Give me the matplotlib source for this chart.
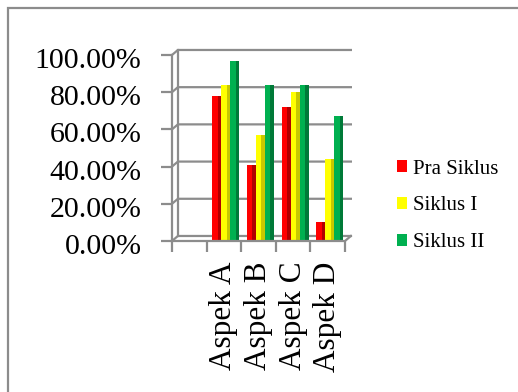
import matplotlib.pyplot as plt
import matplotlib.transforms as mtransforms
from matplotlib.patches import Rectangle
import numpy as np

plt.rcParams['font.family'] = ['Liberation Serif', 'DejaVu Serif']

categories = ['', 'Aspek A', 'Aspek B', 'Aspek C', 'Aspek D']
series_names = ['Pra Siklus', 'Siklus I', 'Siklus II']
pra_siklus = [None, 78, 41, 72, 10]
siklus_1 = [None, 84, 57, 80, 44]
siklus_2 = [None, 97, 84, 84, 67]
y_ticks = [0, 20, 40, 60, 80, 100]

colors = ['#ff0000', '#ffff00', '#00b050']
dark = ['#b00000', '#c8c800', '#007a38']

fig = plt.figure(figsize=(5.18, 3.92), dpi=100)
ax = fig.add_axes([172 / 518, 1 - 241 / 392, 173 / 518, 186 / 392])
ax.set_xlim(-0.5, 4.5)
ax.set_ylim(0, 100)
for s in ax.spines.values():
  s.set_visible(False)

grey = '#8c8c8c'
dx, dy = 0.17, 2.7
# back wall gridlines with a little perspective
for v in y_ticks:
  ax.plot([-0.5, -0.5 + dx, 4.5 + dx], [v, v + dy, v + dy], color=grey, lw=1.6, clip_on=False, zorder=1)
ax.plot([-0.5 + dx, -0.5 + dx], [dy, 100 + dy], color=grey, lw=1.6, clip_on=False, zorder=1)
ax.plot([-0.5, -0.5], [0, 100], color=grey, lw=1.6, clip_on=False, zorder=4)
ax.plot([-0.5, 4.5, 4.5 + dx], [0, 0, dy], color=grey, lw=1.6, clip_on=False, zorder=4)

x = np.arange(len(categories))
w = 0.26
offs = [-0.2, 0.06, 0.32]
for vals, c, d, o, name in zip([pra_siklus, siklus_1, siklus_2], colors, dark, offs, series_names):
  xs = [xi + o for xi, v in zip(x, vals) if v is not None]
  hs = [v for v in vals if v is not None]
  ax.bar(xs, hs, width=w, color=c, label=name, zorder=3, linewidth=0)
  ax.bar([xx + w * 0.3 for xx in xs], hs, width=w * 0.4, color=d, zorder=3, linewidth=0)

ax.set_yticks(y_ticks)
ax.set_yticklabels(['%.2f%%' % v for v in y_ticks], fontsize=21.5)
ax.tick_params(axis='y', length=8, width=1.6, color=grey, pad=14)
off = mtransforms.ScaledTranslation(0, -3 / 100, fig.dpi_scale_trans)
for lab in ax.get_yticklabels():
  lab.set_transform(lab.get_transform() + off)

ax.set_xticks(x)
ax.set_xticklabels(categories, rotation=90, fontsize=22.5)
ax.tick_params(axis='x', length=0, pad=15)
ax.set_xticks(np.arange(-0.5, 5, 1), minor=True)
ax.tick_params(axis='x', which='minor', length=8, width=1.6, color=grey)

fig.legend(handles=ax.containers[0::2], labels=series_names, loc='upper left',
           bbox_to_anchor=(378 / 518, 1 - 141 / 392), frameon=False, fontsize=15,
           handlelength=0.5, handleheight=0.5, handletextpad=0.3, labelspacing=0.85)

fig.patches.append(Rectangle((8 / 518, -0.1), 1.2, 1.1 - 8 / 392, transform=fig.transFigure,
                             fill=False, edgecolor='#8c8c8c', lw=1.6))

fig.savefig('out.png', dpi=100)
